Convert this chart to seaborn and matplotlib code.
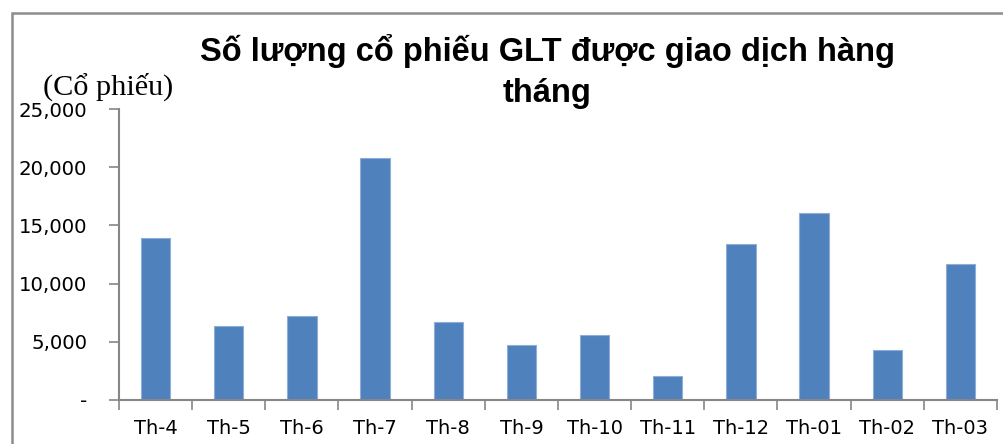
"""
Monthly traded volume of GLT shares, bar chart.
"""
import numpy as np
import pandas as pd
import matplotlib
matplotlib.use('Agg')
import matplotlib.pyplot as plt
from matplotlib.patches import Rectangle
from matplotlib.ticker import FuncFormatter, FixedLocator
import seaborn as sns

months = ['Th-4', 'Th-5', 'Th-6', 'Th-7', 'Th-8', 'Th-9', 'Th-10', 'Th-11',
          'Th-12', 'Th-01', 'Th-02', 'Th-03']
volumes = [13900, 6400, 7250, 20800, 6700, 4730, 5590, 2070,
           13400, 16070, 4300, 11690]
y_ticks = [0, 5000, 10000, 15000, 20000, 25000]

title = 'Số lượng cổ phiếu GLT được giao dịch hàng\ntháng'
unit_label = '(Cổ phiếu)'

sns.set_style('white')
plt.rcParams['font.family'] = ['DejaVu Sans']
plt.rcParams['text.color'] = 'black'
plt.rcParams['xtick.color'] = 'black'
plt.rcParams['ytick.color'] = 'black'

bar_color = '#4F81BD'
axis_color = '#868686'

data = pd.DataFrame({'month': months, 'volume': volumes})

figure = plt.figure(figsize=(10.04, 4.44), dpi=100)
axes = figure.add_axes([0.1185, 0.0991, 0.8745, 0.6554])
sns.barplot(data=data, x='month', y='volume', color=bar_color, width=0.4,
            edgecolor='#8eaed8', linewidth=0.8, saturation=1, ax=axes)

axes.set_xlim(-0.5, len(months) - 0.5)
axes.set_ylim(0, 25000)
axes.set_yticks(y_ticks)
axes.yaxis.set_major_formatter(FuncFormatter(lambda v, p: '-' if v == 0 else '{:,.0f}'.format(v)))
axes.xaxis.set_minor_locator(FixedLocator(np.arange(-0.5, len(months), 1.0)))
axes.tick_params(axis='both', which='both', bottom=True, left=True)
axes.tick_params(axis='x', which='major', length=0, pad=14, labelsize=14, labelcolor='black')
axes.tick_params(axis='x', which='minor', length=7, width=1.2, color=axis_color, direction='out')
axes.tick_params(axis='y', length=7, width=1.2, color=axis_color, direction='out', pad=15.8,
                 labelsize=14.2, labelcolor='black')
axes.set_xlabel('')
axes.set_ylabel('')
for side in ['top', 'right']:
    axes.spines[side].set_visible(False)
for side in ['left', 'bottom']:
    axes.spines[side].set_color(axis_color)
    axes.spines[side].set_linewidth(1.5)

figure.text(0.545, 0.839, title, ha='center', va='center', fontsize=23.5,
            fontweight='bold', family='Liberation Sans', linespacing=1.4)
figure.text(0.043, 0.804, unit_label, ha='left', va='center', fontsize=21.8,
            family='Liberation Serif')

# outer chart frame, cut off at the right and bottom
figure.add_artist(Rectangle((12 / 1004, -0.1), 1.2, 1.1 - 13 / 444, transform=figure.transFigure,
                            fill=False, edgecolor='#8c8c8c', linewidth=1.8))

figure.savefig('out.png', dpi=100)
